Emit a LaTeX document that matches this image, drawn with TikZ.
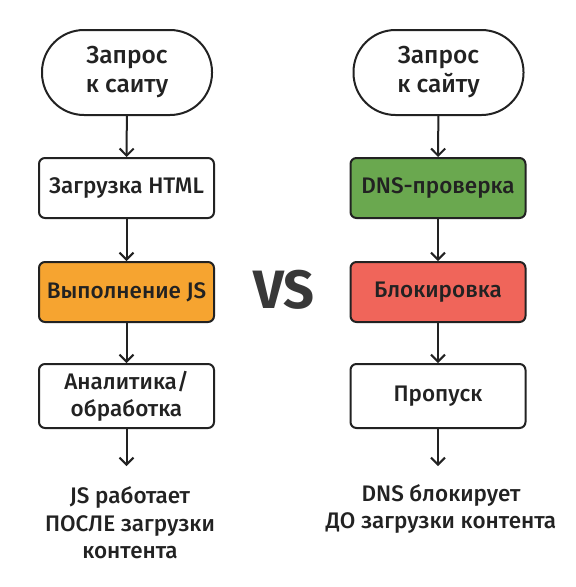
\documentclass[tikz,border=0pt]{standalone}
\usepackage{fontspec}
\setmainfont{Fira Sans}[UprightFont={* Medium},BoldFont={* Bold}]
\usetikzlibrary{arrows.meta}
\definecolor{txt}{HTML}{222222}
\definecolor{orangefill}{HTML}{F6A430}
\definecolor{greenfill}{HTML}{6AA84F}
\definecolor{redfill}{HTML}{F0655A}
\begin{document}
\begin{tikzpicture}[x=1pt,y=-1pt,
  every node/.style={text=txt},
  pill/.style={draw=txt,line width=2pt,rounded corners=42pt,minimum width=170pt,minimum height=85pt,align=center,font=\fontsize{24.5}{29}\selectfont},
  stepbox/.style={draw=txt,line width=2pt,rounded corners=6pt,minimum width=175pt,minimum height=60pt,align=center,font=\fontsize{22.5}{27}\selectfont},
  note/.style={align=center,font=\fontsize{22.5}{27.5}\selectfont},
  conn/.style={draw=txt,line width=2pt,-{Straight Barb[length=7pt,width=14pt,line width=2pt]}}
]
\useasboundingbox (0,0) rectangle (576,587);
% left column
\node[pill] (l1) at (127,72.5) {Запрос\\к саиту};
\node[stepbox] (l2) at (126.5,188) {Загрузка HTML};
\node[stepbox,fill=orangefill] (l3) at (126.5,292) {Выполнение JS};
\node[stepbox,minimum height=64pt] (l4) at (126.5,396) {Аналитика/\\обработка};
\coordinate (l5) at (126.5,466);
\node[note] (ln) at (130,523) {JS работает\\ПОСЛЕ загрузки\\контента};
\draw[conn] (l1) -- (l2);
\draw[conn] (l2) -- (l3);
\draw[conn] (l3) -- (l4);
\draw[conn] (l4) -- (l5);
% right column
\node[pill] (r1) at (438.5,72.5) {Запрос\\к сайту};
\node[stepbox,fill=greenfill] (r2) at (438,188) {DNS-проверка};
\node[stepbox,fill=redfill] (r3) at (438,292) {Блокировка};
\node[stepbox,minimum height=64pt] (r4) at (438,396) {Пропуск};
\coordinate (r5) at (438,466);
\node[note] (rn) at (441,509) {DNS блокирует\\ДО загрузки контента};
\draw[conn] (r1) -- (r2);
\draw[conn] (r2) -- (r3);
\draw[conn] (r3) -- (r4);
\draw[conn] (r4) -- (r5);
% VS
\node[font=\fontsize{54}{54}\selectfont\bfseries,text=txt!90] (vs) at (284,290) {VS};
\end{tikzpicture}
\end{document}
